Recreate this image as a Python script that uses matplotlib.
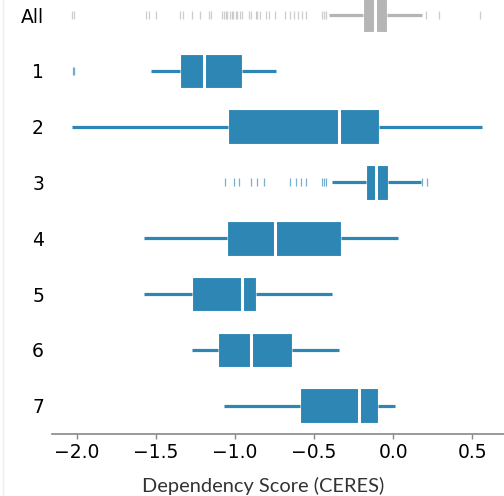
import matplotlib
matplotlib.use("Agg")
import matplotlib.pyplot as plt
from matplotlib.lines import Line2D

BLUE = '#2e86b4'
GRAY = '#b5b5b5'

labels = ['All', '1', '2', '3', '4', '5', '6', '7']

# five-number summaries
q1 = [-0.192, -1.348, -1.046, -0.174, -1.052, -1.273, -1.105, -0.587]
med = [-0.113, -1.196, -0.343, -0.110, -0.745, -0.953, -0.897, -0.217]
q3 = [-0.040, -0.957, -0.093, -0.034, -0.331, -0.867, -0.642, -0.095]
wlo = [-0.408, -1.534, -2.031, -0.385, -1.574, -1.574, -1.271, -1.069]
whi = [0.183, -0.739, 0.562, 0.174, 0.029, -0.388, -0.343, 0.008]

fliers_all = [-2.03, -2.02, -1.564, -1.547, -1.50, -1.345, -1.332, -1.275, -1.223,
              -1.166, -1.155, -1.080, -1.069, -1.059, -1.048, -1.033, -1.021, -1.010,
              -0.996, -0.985, -0.970, -0.953, -0.911, -0.901, -0.869, -0.859, -0.844,
              -0.802, -0.787, -0.745, -0.682, -0.655, -0.628, -0.602, -0.577, -0.549,
              -0.448, -0.438, -0.427, 0.208, 0.292, 0.551]
fliers_1 = [-2.025, -2.015]
fliers_3 = [-1.065, -1.006, -0.975, -0.897, -0.861, -0.819, -0.655, -0.617, -0.585,
            -0.549, -0.448, -0.440, -0.427, 0.183, 0.215]
fliers = [fliers_all, fliers_1, [], fliers_3, [], [], [], []]

stats = []
for i in range(len(labels)):
    stats.append(dict(q1=q1[i], med=med[i], q3=q3[i], whislo=wlo[i], whishi=whi[i],
                      fliers=fliers[i], label=labels[i]))

fig = plt.figure(figsize=(5.04, 4.96), dpi=100)
ax = fig.add_axes([0.1038, 0.1258, 0.8962, 0.9002])

for i, s in enumerate(stats):
    c = GRAY if i == 0 else BLUE
    ax.bxp([s], positions=[i], widths=0.62, vert=False, patch_artist=True,
           showcaps=False,
           boxprops=dict(facecolor=c, edgecolor='white', linewidth=0.8, alpha=1),
           whiskerprops=dict(color=c, linewidth=2.3, solid_capstyle='butt'),
           medianprops=dict(color='white', linewidth=2.2),
           flierprops=dict(marker='|', markersize=6, markeredgewidth=0.9,
                           markeredgecolor=c, alpha=0.65, linestyle='none'))

ax.set_ylim(7.5, -0.5)
ax.set_xlim(-2.155, 0.70)
ax.set_yticks(range(len(labels)))
ax.set_yticklabels(labels, fontsize=13.5)
ax.set_xticks([-2.0, -1.5, -1.0, -0.5, 0.0, 0.5])
ax.set_xticklabels(['\u22122.0', '\u22121.5', '\u22121.0', '\u22120.5', '0.0', '0.5'], fontsize=13.5)
ax.tick_params(axis='y', length=0, pad=6)
ax.tick_params(axis='x', length=3.5, color='#888888', width=1, pad=3)
for side in ['left', 'top', 'right']:
    ax.spines[side].set_visible(False)
ax.spines['bottom'].set_color('#888888')
ax.spines['bottom'].set_linewidth(1.2)
ax.set_xlabel('Dependency Score (CERES)', fontsize=14.4, family=['Lato', 'DejaVu Sans'],
              color='#333333')
ax.xaxis.set_label_coords(0.467, -0.097)

# faint left border line
fig.add_artist(Line2D([3 / 504, 3 / 504], [0, 1], transform=fig.transFigure,
                      color='#eeeeee', linewidth=1))

fig.savefig('out.png', dpi=100)
